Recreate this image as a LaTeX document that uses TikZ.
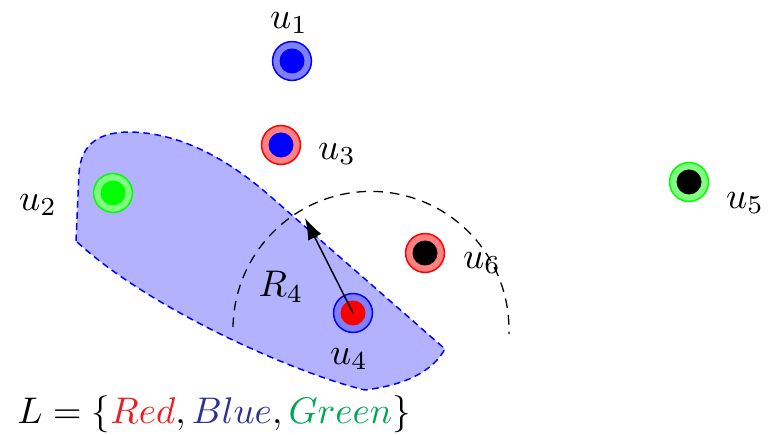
\documentclass[tikz,border=0pt]{standalone}
\usetikzlibrary{arrows.meta}
\definecolor{tRed}{RGB}{237,28,36}
\definecolor{tBlue}{RGB}{46,49,146}
\definecolor{tGreen}{RGB}{0,166,81}
\begin{document}
\begin{tikzpicture}[x=0.27pt,y=0.27pt,
  outer/.style={circle,minimum size=10.5pt,inner sep=0pt,line width=0.4pt},
  inner/.style={circle,minimum size=6.75pt,inner sep=0pt},
  lab/.style={inner sep=0pt,font=\normalsize}]
\useasboundingbox (0,0) rectangle (768,435);
% region
\path[fill=blue!30,draw=blue,line width=0.4pt,dash pattern=on 1.8pt off 1.2pt]
  (76,194) -- (79,262) .. controls (81,292) and (100,303) .. (130,303)
  .. controls (190,302) and (240,265) .. (270,239) -- (445,86)
  .. controls (432,63) and (405,50) .. (365,45)
  .. controls (300,60) and (150,125) .. (76,194) -- cycle;
% range arc
\draw[line width=0.35pt,dash pattern=on 2.6pt off 1.9pt] (233,108) arc[start angle=179, end angle=-2, radius=138];
% vertices
\node[outer,fill=blue!50,draw=blue] (u1) at (292,374) {};
\node[inner,fill=blue] (c1) at (u1) {};
\node[outer,fill=green!50,draw=green] (u2) at (113,242) {};
\node[inner,fill=green] (c2) at (u2) {};
\node[outer,fill=red!50,draw=red] (u3) at (281,290) {};
\node[inner,fill=blue] (c3) at (u3) {};
\node[outer,fill=blue!50,draw=blue] (u4) at (353,122) {};
\node[inner,fill=red] (c4) at (u4) {};
\node[outer,fill=green!50,draw=green] (u5) at (689,253) {};
\node[inner,fill=black] (c5) at (u5) {};
\node[outer,fill=red!50,draw=red] (u6) at (425,182) {};
\node[inner,fill=black] (c6) at (u6) {};
% labels
\node[lab] (l1) at (289,412) {$u_1$};
\node[lab] (l2) at (38,230) {$u_2$};
\node[lab] (l3) at (337,281) {$u_3$};
\node[lab] (l4) at (349,76) {$u_4$};
\node[lab] (l5) at (745,232) {$u_5$};
\node[lab] (l6) at (482,172) {$u_6$};
\node[lab] (r4) at (281,148) {$R_4$};
% radius arrow
\coordinate (tip) at (305,217);
\draw[line width=0.4pt,-{Latex[length=5.8pt,width=4pt]}] (u4.center) -- (tip);
% label set
\node[lab] (L) at (214,21) {$L=\{\textcolor{tRed}{Red},\textcolor{tBlue}{Blue},\textcolor{tGreen}{Green}\}$};
\end{tikzpicture}
\end{document}
